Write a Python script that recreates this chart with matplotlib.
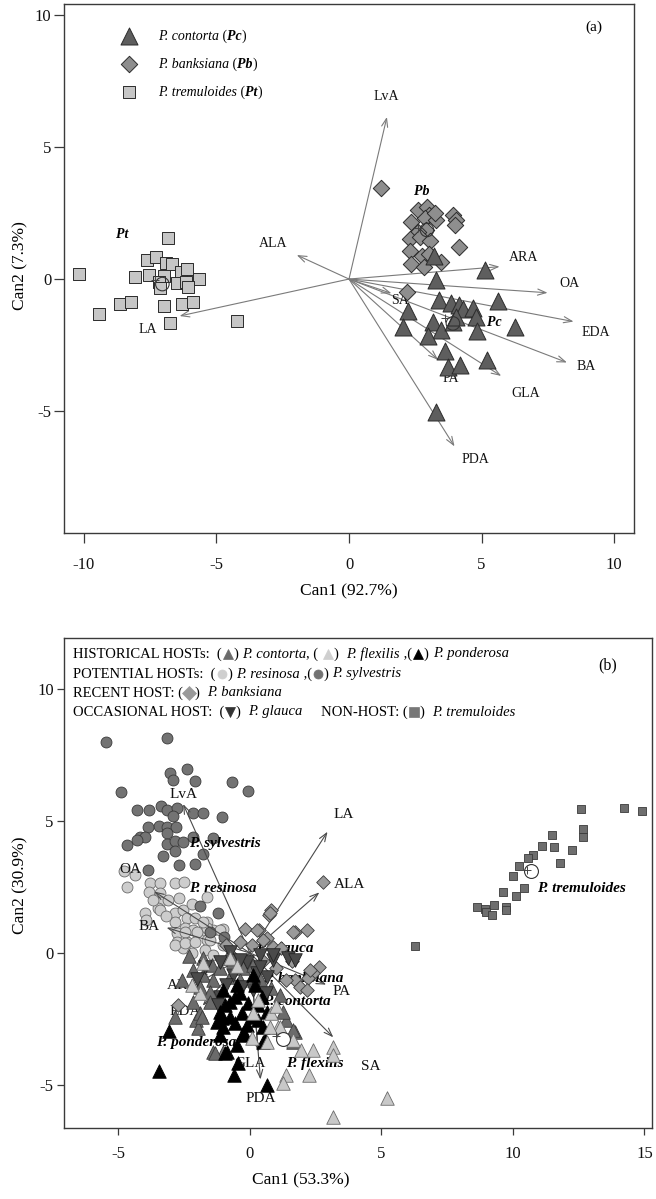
import matplotlib
matplotlib.use('Agg')
import matplotlib.pyplot as plt
from matplotlib.lines import Line2D

plt.rcParams['font.family'] = ['Liberation Serif', 'DejaVu Serif']
plt.rcParams['axes.unicode_minus'] = False

# ---------------- Panel (a) data ----------------
pc_x = [3.21, 5.14, 3.30, 3.40, 3.86, 4.15, 4.30, 4.67, 4.80, 5.61, 6.28, 2.23, 2.04, 3.15, 3.48, 3.92,
        4.83, 2.98, 3.61, 3.73, 4.20, 5.21, 3.30, 4.05]
pc_y = [0.87, 0.35, -0.03, -0.78, -0.89, -0.97, -1.14, -1.10, -1.42, -0.82, -1.80, -1.21, -1.80, -1.61, -1.92, -1.61,
        -1.98, -2.17, -2.74, -3.34, -3.25, -3.06, -5.05, -1.42]
pb_x = [1.19, 2.32, 2.61, 2.94, 3.02, 2.86, 3.30, 3.23, 3.92, 4.05, 3.98, 2.89, 2.61, 2.29, 2.67, 3.07,
        2.29, 2.77, 2.32, 2.82, 3.48, 4.14, 2.17, 3.00]
pb_y = [3.46, 2.18, 2.62, 2.72, 2.42, 2.30, 2.24, 2.49, 2.42, 2.24, 2.05, 1.86, 1.80, 1.51, 1.59, 1.46,
        1.05, 0.88, 0.57, 0.45, 0.63, 1.20, -0.48, 0.95]
pt_x = [-10.19, -9.42, -8.63, -8.23, -8.07, -7.63, -7.29, -7.54, -6.83, -6.92, -6.69, -6.35, -6.10, -5.64,
        -6.98, -7.17, -7.13, -6.48, -6.13, -6.08, -6.98, -6.29, -5.88, -6.76, -4.22]
pt_y = [0.19, -1.33, -0.96, -0.86, 0.09, 0.72, 0.84, 0.14, 1.56, 0.59, 0.57, 0.28, 0.37, 0.01,
        0.11, -0.10, -0.32, -0.14, -0.11, -0.29, -1.02, -0.95, -0.86, -1.65, -1.57]
a_centroid_x = [-7.04, 2.94, 3.92]
a_centroid_y = [-0.19, 1.86, -1.68]
a_plus_x = [-7.32, 2.61, 3.61]
a_plus_y = [-0.03, 1.92, -1.49]

a_vars = ['LvA', 'ALA', 'LA', 'ARA', 'OA', 'EDA', 'BA', 'GLA', 'PA', 'PDA', 'SA']
a_vec_x = [1.43, -1.97, -6.39, 5.68, 7.49, 8.47, 8.22, 5.74, 3.36, 3.98, 1.60]
a_vec_y = [6.14, 0.91, -1.40, 0.47, -0.52, -1.61, -3.16, -3.67, -3.06, -6.34, -0.54]
a_lab_x = [1.40, -2.88, -7.60, 6.58, 8.31, 9.31, 8.94, 6.68, 3.83, 4.77, 1.92]
a_lab_y = [6.90, 1.35, -1.90, 0.82, -0.16, -2.03, -3.30, -4.33, -3.76, -6.85, -0.80]

# ---------------- Panel (b) data ----------------
syl_x = [-5.49, -3.14, -3.04, -2.41, -2.91, -2.09, -0.67, -0.06, -4.92, -4.31, -3.83, -3.40, -3.17, -2.79,
         -2.18, -1.77, -1.05, -2.94, -3.45, -3.87, -3.14, -2.81, -4.18, -3.99, -4.69, -3.17, -3.14, -2.85,
         -2.54, -2.85, -3.30, -1.39, -1.80, -2.69, -2.09, -3.87, -4.31, -2.16, -1.20, -1.00, -1.90, -1.50]
syl_y = [8.02, 8.17, 6.84, 6.97, 6.57, 6.54, 6.50, 6.15, 6.12, 5.43, 5.43, 5.58, 5.43, 5.49,
         5.30, 5.30, 5.15, 5.20, 4.82, 4.79, 4.79, 4.79, 4.41, 4.41, 4.10, 4.54, 4.14, 4.25,
         4.22, 3.88, 3.68, 4.35, 3.75, 3.34, 3.37, 3.15, 4.29, 4.41, 1.50, 0.60, 1.80, 0.80]
res_x = [-4.37, -4.69, -3.80, -3.42, -3.83, -3.42, -2.85, -2.51, -1.65, -3.42, -3.99, -3.49, -2.85, -2.54,
         -2.22, -2.85, -2.41, -2.09, -1.65, -2.47, -2.16, -1.78, -1.39, -2.79, -3.95, -2.41, -1.01, -1.65,
         -2.79, -2.54, -3.42, -2.47, -2.03, -1.65, -1.14, -2.85, -2.47, -2.09, -1.01, -1.71, -2.22, -1.39,
         -1.52, -1.78, -3.10, -3.70, -2.70, -3.20, -4.80]
res_y = [2.96, 2.49, 2.64, 2.67, 2.33, 2.26, 2.64, 2.71, 2.14, 1.95, 1.51, 1.70, 1.51, 1.63,
         1.86, 1.19, 1.31, 1.31, 1.19, 0.94, 0.87, 0.87, 0.87, 0.75, 1.25, 0.43, 0.90, 0.49,
         0.43, 0.18, 1.63, 0.81, 0.81, 0.94, 0.87, 0.30, 0.37, 0.43, 0.30, 0.11, 0.00, -0.08,
         0.49, 1.19, 2.00, 2.00, 2.10, 1.40, 3.10]
ban_x = [2.79, 0.79, 0.73, 1.71, 2.16, -0.19, 0.35, 0.63, 2.64, 2.41, 2.22, 1.71, 0.76, 0.25, 0.51,
         1.65, -0.38, 0.06, 0.89, -0.63, -2.73, 1.39, 1.01, 2.28, 1.90, 2.16, 1.20, 0.50, 1.60, -0.90]
ban_y = [2.71, 1.63, 1.44, 0.81, 0.87, 0.90, 0.87, 0.56, -0.52, -0.77, -0.96, -1.02, 1.51, 0.87, 0.49,
         0.81, 0.43, 0.30, 0.24, -0.14, -1.97, -1.02, -0.58, -0.65, -1.28, -1.40, 0.20, -0.30, -0.30, 0.30]
gla_x = [1.46, 0.89, 0.38, -0.13, -1.14, -1.71, -0.63, 0.25, 0.63, -1.14, -0.38, -0.76, -1.20, 0.13,
         -0.32, 1.71, 0.89, 0.38, -2.00, -0.90, 0.60]
gla_y = [-0.20, -0.27, -0.08, -0.33, -0.33, -0.52, -0.83, -0.77, -0.90, -1.66, -0.27, 0.05, -1.97, -1.40,
         -1.28, -0.27, -0.08, -0.52, -1.00, -1.20, -1.50]
con_x = [-2.60, -2.85, -2.05, -1.39, -1.01, 1.71, 1.39, 1.27, 1.65, -1.77, -1.46, -1.14, -0.89, -0.63,
         -0.25, -1.77, -1.39, -0.76, -0.38, -2.16, -1.90, -1.52, 0.82, -1.90, -1.52, 1.14, 0.13, -1.96,
         -1.33, 1.65, -2.16, -1.84, -2.30, 0.40]
con_y = [-1.02, -2.42, -2.54, -3.75, -3.75, -2.99, -2.54, -2.23, -3.37, -0.20, -0.46, -0.58, -0.20, -0.27,
         -0.58, -0.83, -1.02, -0.90, -1.02, -0.65, -1.28, -1.47, -1.34, -2.29, -1.85, -1.59, -0.46, -2.86,
         -3.81, -2.93, -1.85, -2.42, -0.10, -1.00]
fle_x = [3.14, 3.14, 2.41, 1.96, 1.65, 2.26, 1.39, 1.27, 5.23, 3.14, 1.08, 0.06, -1.90, 1.14, 0.76,
         0.63, -1.77, -0.76, 0.13, 0.82, -2.20, 0.30, 1.00, -0.50]
fle_y = [-3.56, -3.87, -3.68, -3.68, -3.30, -4.63, -4.63, -4.95, -5.52, -6.21, -2.80, -3.24, -1.53, -2.80, -2.80,
         -3.37, -0.39, -0.20, -2.29, -2.29, -1.20, -1.80, -2.00, -0.50]
pon_x = [-3.08, -3.45, -0.61, -0.44, 0.63, -0.48, -0.95, -1.01, -1.08, -0.19, 0.57, 0.51, 0.63, 0.13,
         -0.38, -0.76, -0.06, 0.32, -1.14, -0.76, -0.32, 0.06, 0.32, -1.27, -0.57, -0.13, -1.14, -0.89,
         -0.25, 0.51, -0.57, -1.01, 0.44, 0.19, -0.51, -0.95]
pon_y = [-2.96, -4.47, -4.63, -4.19, -5.01, -3.49, -3.78, -2.80, -2.48, -3.11, -3.30, -2.80, -2.23, -0.83,
         -1.53, -1.85, -1.91, -1.97, -2.23, -2.42, -2.29, -2.42, -2.54, -2.61, -2.67, -2.73, -3.11, -3.75,
         -3.05, -3.37, -1.66, -1.40, -1.66, -1.21, -1.21, -1.97]
tre_x = [12.59, 14.22, 14.92, 12.67, 12.67, 11.49, 11.09, 11.56, 12.23, 10.77, 10.58, 11.79, 10.24, 10.01,
         10.43, 10.11, 9.63, 8.62, 8.94, 8.97, 9.19, 9.29, 9.73, 9.73, 6.27]
tre_y = [5.46, 5.51, 5.40, 4.69, 4.41, 4.48, 4.07, 4.03, 3.90, 3.72, 3.59, 3.40, 3.31, 2.93,
         2.45, 2.16, 2.33, 1.73, 1.67, 1.57, 1.44, 1.82, 1.73, 1.63, 0.27]
b_centroid_x = [10.68, 1.27]
b_centroid_y = [3.11, -3.27]
b_plus_x = [10.52, 0.99]
b_plus_y = [3.15, -3.15]

b_vars = ['LvA', 'LA', 'ALA', 'OA', 'BA', 'ARA', 'EDA', 'GLA', 'PDA', 'PA', 'SA']
b_vec_x = [-2.54, 2.95, 2.64, -3.64, -3.17, -1.90, -1.80, 0.32, 0.40, 2.90, 3.17]
b_vec_y = [5.65, 4.60, 2.30, 2.33, 0.96, -1.10, -2.00, -3.75, -4.80, -1.20, -3.20]
b_lab_x = [-2.54, 3.55, 3.80, -4.56, -3.83, -2.54, -2.47, 0.00, 0.42, 3.48, 4.59]
b_lab_y = [6.03, 5.24, 2.58, 3.15, 1.00, -1.25, -2.23, -4.19, -5.52, -1.47, -4.31]

b_groups = ['P. sylvestris', 'P. resinosa', 'P. glauca', 'P. banksiana', 'P. contorta',
            'P. ponderosa', 'P. flexilis', 'P. tremuloides']
b_grp_x = [-2.31, -2.31, 0.25, 0.51, 0.51, -3.57, 1.39, 10.90]
b_grp_y = [4.16, 2.45, 0.18, -0.96, -1.85, -3.40, -4.19, 2.45]

# ---------------- figure ----------------
W, H = 656, 1199
fig = plt.figure(figsize=(W / 100, H / 100), dpi=100)


def fx(p):
    return p / W


def fy(p):
    return 1 - p / H


spine_c = '#3a3a3a'
ax1 = fig.add_axes([fx(64), fy(533), (634 - 64) / W, (533 - 4) / H])
ax2 = fig.add_axes([fx(63.5), fy(1128), (652 - 63.5) / W, (1128 - 638) / H])

for ax in (ax1, ax2):
    for s in ax.spines.values():
        s.set_color(spine_c)
        s.set_linewidth(1.0)
    ax.tick_params(direction='out', colors=spine_c, labelcolor='#111111', labelsize=12, width=0.9)

ax1.set_xlim(-10.75, 10.75)
ax1.set_ylim(-9.62, 10.42)
ax1.set_xticks([-10, -5, 0, 5, 10])
ax1.set_yticks([-5, 0, 5, 10])
ax1.tick_params(axis='x', length=7, pad=10)
ax1.tick_params(axis='y', length=7, pad=2)

ax2.set_xlim(-7.09, 15.29)
ax2.set_ylim(-6.64, 11.95)
ax2.set_xticks([-5, 0, 5, 10, 15])
ax2.set_yticks([-5, 0, 5, 10])
ax2.tick_params(axis='x', length=5, pad=8)
ax2.tick_params(axis='y', length=5, pad=2)

# ---- panel (a)
arrow_a = dict(arrowstyle='->,head_length=0.6,head_width=0.22', color='#7a7a7a', lw=0.8,
               shrinkA=0, shrinkB=0)
for v, x, y, lx, ly in zip(a_vars, a_vec_x, a_vec_y, a_lab_x, a_lab_y):
    ax1.annotate('', xy=(x, y), xytext=(0, 0), arrowprops=arrow_a, zorder=1)
    ax1.text(lx, ly, v, fontsize=10, ha='center', va='center', zorder=1, color='#111111')

edge = '#2b2b2b'
ax1.scatter(pt_x, pt_y, marker='s', s=72, c='#c6c6c6', edgecolors=edge, linewidths=0.7, zorder=3)
ax1.scatter(pb_x, pb_y, marker='D', s=70, c='#8e8e8e', edgecolors=edge, linewidths=0.7, zorder=3)
ax1.scatter(pc_x, pc_y, marker='^', s=150, c='#5e5e5e', edgecolors=edge, linewidths=0.7, zorder=4)
ax1.scatter(a_centroid_x, a_centroid_y, marker='o', s=95, facecolors='none', edgecolors='#333333',
            linewidths=0.8, zorder=5)
ax1.scatter(a_plus_x, a_plus_y, marker='+', s=40, c='#444444', linewidths=0.7, zorder=5)

ax1.text(-8.55, 1.70, 'Pt', fontsize=10, fontweight='bold', fontstyle='italic', ha='center',
         va='center', zorder=6)
ax1.text(2.73, 3.31, 'Pb', fontsize=10, fontweight='bold', fontstyle='italic', ha='center',
         va='center', zorder=6)
ax1.text(5.49, -1.64, 'Pc', fontsize=10, fontweight='bold', fontstyle='italic', ha='center',
         va='center', zorder=6)
fig.text(fx(594), fy(27), '(a)', fontsize=11, ha='center', va='center')

renderer = fig.canvas.get_renderer()

# legend (a)
leg_rows = [(36, '^', 150, '#5e5e5e', 'P. contorta', 'Pc'),
            (64, 'D', 70, '#8e8e8e', 'P. banksiana', 'Pb'),
            (92, 's', 72, '#c6c6c6', 'P. tremuloides', 'Pt')]
for yy, mk, ss, col, name, abbr in leg_rows:
    ax1.scatter([fx(129)], [fy(yy)], marker=mk, s=ss, c=col, edgecolors=edge, linewidths=0.7,
                transform=fig.transFigure, clip_on=False, zorder=6)
    xx = 158
    for txt, style, weight in ((name, 'italic', 'normal'), (' (', 'normal', 'normal'),
                               (abbr, 'italic', 'bold'), (')', 'normal', 'normal')):
        t = fig.text(fx(xx), fy(yy), txt, fontsize=10, fontstyle=style, fontweight=weight,
                     ha='left', va='center')
        xx += t.get_window_extent(renderer).width

fig.text(fx(349), fy(591), 'Can1 (92.7%)', fontsize=12.5, ha='center', va='center')
fig.text(fx(20), fy(266), 'Can2 (7.3%)', fontsize=12.5, ha='center', va='center', rotation=90)

# ---- panel (b)
edge_b = '#3a3a3a'
ax2.scatter(res_x, res_y, marker='o', s=62, c='#cdcdcd', edgecolors='#6a6a6a', linewidths=0.6, zorder=2)
ax2.scatter(syl_x, syl_y, marker='o', s=62, c='#737373', edgecolors=edge_b, linewidths=0.6, zorder=2)

arrow_b = dict(arrowstyle='->,head_length=0.6,head_width=0.22', color='#4a4a4a', lw=0.8,
               shrinkA=0, shrinkB=0)
for v, x, y, lx, ly in zip(b_vars, b_vec_x, b_vec_y, b_lab_x, b_lab_y):
    ax2.annotate('', xy=(x, y), xytext=(0, 0), arrowprops=arrow_b, zorder=3)
    ax2.text(lx, ly, v, fontsize=11, ha='center', va='center', zorder=3, color='#111111')
for g, x, y in zip(b_groups, b_grp_x, b_grp_y):
    ax2.text(x, y, g, fontsize=11, fontweight='bold', fontstyle='italic', ha='left', va='center', zorder=3)

ax2.scatter(ban_x, ban_y, marker='D', s=48, c='#9a9a9a', edgecolors=edge_b, linewidths=0.6, zorder=4)
ax2.scatter(con_x, con_y, marker='^', s=95, c='#6b6b6b', edgecolors=edge_b, linewidths=0.6, zorder=4)
ax2.scatter(gla_x, gla_y, marker='v', s=95, c='#4a4a4a', edgecolors='#222222', linewidths=0.6, zorder=4)
ax2.scatter(pon_x, pon_y, marker='^', s=95, c='#000000', edgecolors='#000000', linewidths=0.6, zorder=4)
ax2.scatter(fle_x, fle_y, marker='^', s=95, c='#c8c8c8', edgecolors='#6a6a6a', linewidths=0.6, zorder=4)
ax2.scatter(tre_x, tre_y, marker='s', s=40, c='#6e6e6e', edgecolors=edge_b, linewidths=0.6, zorder=4)
ax2.scatter(b_centroid_x, b_centroid_y, marker='o', s=100, facecolors='white', edgecolors='#333333',
            linewidths=0.8, zorder=6)
ax2.scatter(b_plus_x, b_plus_y, marker='+', s=40, c='#444444', linewidths=0.7, zorder=6)

fig.text(fx(608), fy(665), '(b)', fontsize=11.5, ha='center', va='center')
fig.text(fx(301), fy(1180), 'Can1 (53.3%)', fontsize=12.5, ha='center', va='center')
fig.text(fx(20), fy(885), 'Can2 (30.9%)', fontsize=12.5, ha='center', va='center', rotation=90)

# legend (b)
FS = 10.5


def legend_line(y, items, x0=73):
    xx = x0
    for kind, val in items:
        if kind in ('r', 'i'):
            t = fig.text(fx(xx), fy(y), val, fontsize=FS, fontstyle='italic' if kind == 'i' else 'normal',
                         ha='left', va='center')
            xx += t.get_window_extent(renderer).width
        else:
            mk, col, ec = val
            fig.add_artist(Line2D([fx(xx + 6)], [fy(y)], marker=mk, markersize=7 if mk != 'o' else 6.5,
                                  color=col, markeredgecolor=ec, markeredgewidth=0.5,
                                  transform=fig.transFigure, linestyle='none'))
            xx += 12


legend_line(654, [('r', 'HISTORICAL HOSTs:  ('), ('m', ('^', '#6b6b6b', '#6b6b6b')), ('r', ') '),
                  ('i', 'P. contorta'), ('r', ', ( '), ('m', ('^', '#cfcfcf', '#cfcfcf')), ('r', ')  '),
                  ('i', 'P. flexilis'), ('r', ' ,('), ('m', ('^', '#000000', '#000000')), ('r', ') '),
                  ('i', 'P. ponderosa')])
legend_line(674, [('r', 'POTENTIAL HOSTs:  ('), ('m', ('o', '#cfcfcf', '#cfcfcf')), ('r', ') '),
                  ('i', 'P. resinosa'), ('r', ' ,('), ('m', ('o', '#737373', '#737373')), ('r', ') '),
                  ('i', 'P. sylvestris')])
legend_line(693, [('r', 'RECENT HOST: ('), ('m', ('D', '#9a9a9a', '#9a9a9a')), ('r', ')  '),
                  ('i', 'P. banksiana')])
legend_line(712, [('r', 'OCCASIONAL HOST:  ('), ('m', ('v', '#333333', '#333333')), ('r', ')  '),
                  ('i', 'P. glauca'), ('r', '     NON-HOST: ('), ('m', ('s', '#777777', '#777777')), ('r', ')  '),
                  ('i', 'P. tremuloides')])

fig.savefig('out.png', dpi=100)
